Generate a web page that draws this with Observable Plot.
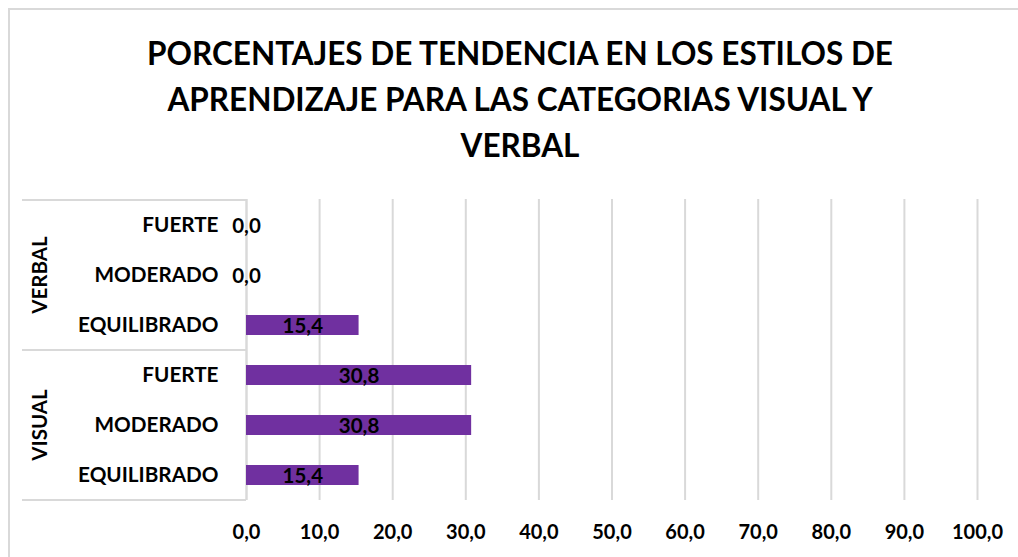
<!DOCTYPE html>
<html>
<head>
<meta charset="utf-8">
<script src="https://cdn.jsdelivr.net/npm/d3@7"></script>
<script src="https://cdn.jsdelivr.net/npm/@observablehq/plot@0.6"></script>
<style>
  html, body { margin: 0; padding: 0; background: #ffffff; }
  #wrap { position: relative; width: 1018px; height: 557px; overflow: hidden; font-family: "Lato", "Liberation Sans", sans-serif; }
  #frame { position: absolute; left: 8px; top: 8px; width: 1040px; height: 600px; border: 2px solid #d9d9d9; box-sizing: border-box; pointer-events: none; z-index: 10; }
  #title { padding-top: 30px; width: 1040px; text-align: center; font-weight: 700; font-size: 31.5px; line-height: 46px; color: #000; height: 138px; box-sizing: content-box; }
  #chart { margin-top: 17px; }
  #chart svg { display: block; background: transparent; }
</style>
</head>
<body>
<div id="wrap">
  <div id="frame"></div>
  <div id="title"></div>
  <div id="chart"></div>
</div>
<script>
// ---- data ----
const titleLines = [
  "PORCENTAJES DE TENDENCIA EN LOS ESTILOS DE",
  "APRENDIZAJE PARA LAS CATEGORIAS VISUAL Y",
  "VERBAL"
];
const groups = ["VERBAL", "VERBAL", "VERBAL", "VISUAL", "VISUAL", "VISUAL"];
const levels = ["FUERTE", "MODERADO", "EQUILIBRADO", "FUERTE", "MODERADO", "EQUILIBRADO"];
const values = [0.0, 0.0, 15.4, 30.8, 30.8, 15.4];
const xTicks = [0, 10, 20, 30, 40, 50, 60, 70, 80, 90, 100];
const barColor = "#7030A0";

// ---- build ----
const fmt = v => v.toFixed(1).replace(".", ",");
const data = levels.map((l, i) => ({ key: groups[i] + "|" + l, group: groups[i], level: l, value: values[i] }));
const keys = data.map(d => d.key);

document.getElementById("title").innerHTML = titleLines.join("<br>");

const plot = Plot.plot({
  width: 1018,
  height: 372,
  marginLeft: 246,
  marginRight: 41,
  marginTop: 14,
  marginBottom: 57,
  style: { fontFamily: "Lato, 'Liberation Sans', sans-serif", fontSize: "20px", fontWeight: "bold", color: "#000", background: "transparent", overflow: "visible" },
  x: { domain: [0, 100], ticks: xTicks, tickFormat: fmt },
  y: { domain: keys, paddingInner: 0.6, paddingOuter: 0.3, axis: null },
  marks: [
    Plot.gridX(xTicks, { stroke: "#d9d9d9", strokeOpacity: 1, strokeWidth: 2 }),
    Plot.ruleX([0], { stroke: "#d9d9d9", strokeWidth: 2 }),
    Plot.barX(data, { x: "value", y: "key", fill: barColor }),
    Plot.axisX({ ticks: xTicks, tickFormat: fmt, tickSize: 0, tickPadding: 24, fontSize: 20, fontWeight: "bold", label: null }),
    Plot.axisY({ tickSize: 0, tickPadding: 28, tickFormat: k => k.split("|")[1], fontSize: 20.7, fontWeight: "bold", label: null }),
    Plot.text(data, { x: d => d.value / 2, y: "key", text: d => fmt(d.value), fontSize: 20.5, fontWeight: "bold", fill: "#000", dy: 1 })
  ]
});
document.getElementById("chart").appendChild(plot);

// ---- group separators and group labels, positioned from the scales ----
const ys = plot.scale("y");
const xs = plot.scale("x");
const gap = (ys.step - ys.bandwidth) / 2;
const bandTop = k => ys.apply(k);
const bounds = [bandTop(keys[0]) - gap];
for (let i = 1; i < keys.length; i++) {
  if (groups[i] !== groups[i - 1]) bounds.push((bandTop(keys[i - 1]) + ys.bandwidth + bandTop(keys[i])) / 2);
}
bounds.push(bandTop(keys[keys.length - 1]) + ys.bandwidth + gap);
const svg = d3.select(plot);
const x0 = xs.apply(0);
const g = svg.append("g");
g.selectAll("line").data(bounds).join("line")
  .attr("x1", 22).attr("x2", x0)
  .attr("y1", d => d).attr("y2", d => d)
  .attr("stroke", "#d9d9d9").attr("stroke-width", 2);
const uniq = Array.from(new Set(groups));
g.selectAll("text").data(uniq).join("text")
  .attr("transform", (d, i) => `translate(40,${(bounds[i] + bounds[i + 1]) / 2}) rotate(-90)`)
  .attr("text-anchor", "middle")
  .attr("dy", "0.35em")
  .attr("font-size", 20.5)
  .attr("font-weight", "bold")
  .attr("fill", "#000")
  .text(d => d);
</script>
</body>
</html>
